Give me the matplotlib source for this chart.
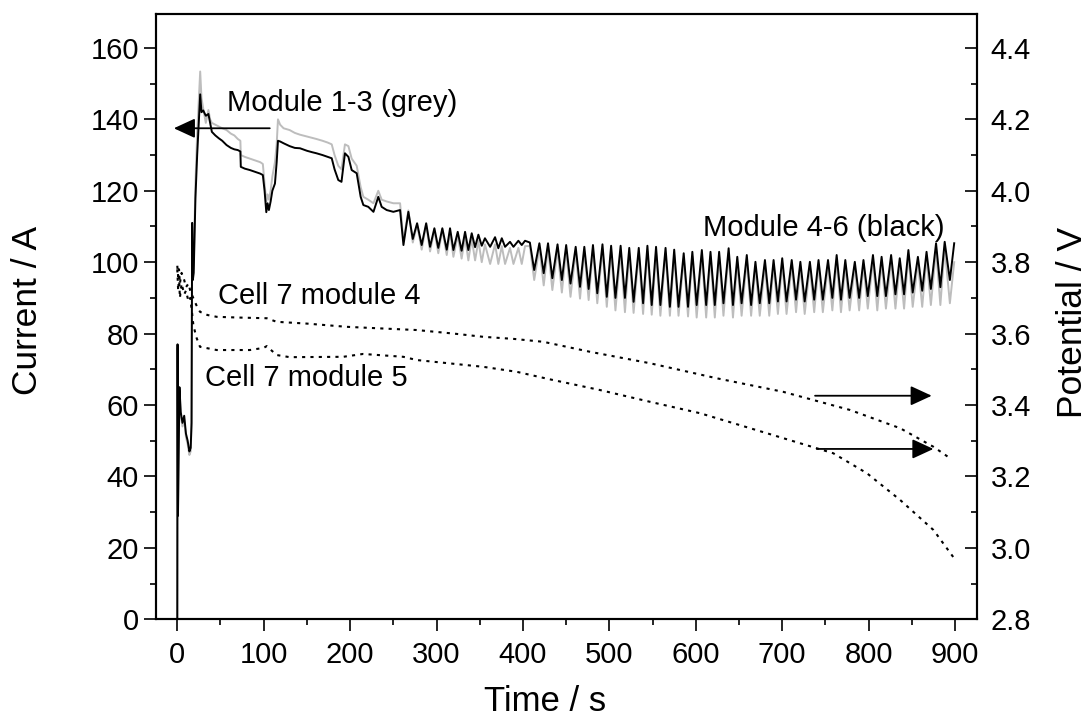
import matplotlib
matplotlib.use('Agg')
import matplotlib.pyplot as plt
import numpy as np

plt.rcParams['font.family'] = ['Liberation Sans', 'DejaVu Sans']

# ---- current, first part (start-up, steps) ----
black_a_t = [0, 0.3, 0.8, 1.5, 2.5, 4, 6, 8, 10, 12, 14, 15.5, 16.5, 17.2, 18, 19, 21, 23, 25,
             26.5, 28, 30, 33, 36, 38, 40, 44, 48, 52, 57, 62, 66, 70, 73, 73.5, 78, 84, 90, 96,
             99, 101, 103, 104.5, 106, 108, 110, 113, 115, 116.5, 119, 123, 130, 136, 142, 150,
             156, 161, 168, 174, 178.7, 182, 186.3, 190, 194, 198, 201.8, 207.6, 212.2, 215.3,
             221, 227, 232.6, 236.5, 242.3, 250, 257.8, 261.7]
black_a_i = [0, 77, 29, 45, 65, 58, 55, 57, 52, 50, 47, 48, 55, 111, 95, 97, 118, 130, 140,
             147, 142, 142.5, 141, 141.5, 139, 136.5, 135.5, 134.7, 134, 132.8, 132, 131.6, 131.4,
             131, 126.7, 126.2, 125.8, 125.3, 124.8, 124.4, 120, 114, 116.5, 114.6, 117, 120,
             122, 128, 134, 133.8, 133.3, 132.5, 132, 131.9, 131.2, 130.8, 130.5, 130, 129.5,
             129.1, 126, 123, 122.5, 130.5, 129.5, 125.8, 124.9, 118.3, 116, 115.5, 114.1,
             118.3, 115.5, 114.6, 114.1, 114.6, 104.8]
grey_a_t = black_a_t
grey_a_i = [0, 76, 30, 46, 64, 57, 54, 56, 51, 49, 46, 47, 54, 110, 96, 99, 122, 136, 146,
            153.4, 146, 143, 139, 142.6, 140, 139, 138.5, 138, 137.5, 137, 136, 135.5, 134.5,
            134, 130, 129.5, 129, 128.5, 128, 127.5, 122, 117, 119, 117.5, 120, 124, 128,
            133, 140, 138.5, 137.5, 137, 136.2, 135.7, 135.2, 134.8, 134.5, 134, 133.5, 133,
            130, 127, 126, 133, 132.5, 129, 127, 121, 118.3, 117.5, 116.5, 120, 117.5, 117,
            116.5, 116.5, 106]

# ---- current, small oscillations ----
black_b_t = [267.4, 272.5, 277.5, 282.8, 288, 292.5, 297.5, 302, 306.7, 311.8, 315.6, 319.5,
             324.5, 329, 333, 336.8, 340.7, 344.6, 348.4, 352.3, 356, 362, 367.7, 371.5, 375.5,
             379.3, 385, 389, 394.7, 398.6, 402.4]
black_b_i = [114.1, 106.5, 110.9, 104.8, 110.9, 104.3, 109.5, 104, 109.5, 103.5, 109.5, 103.4,
             108.5, 103.2, 108.5, 103.4, 108.1, 104.2, 107.7, 104.6, 106.7, 104.3, 107, 103.9,
             106.7, 104.3, 105.7, 104.3, 106, 104.8, 106]
grey_b_t = black_b_t
grey_b_i = [114.5, 105.5, 110.5, 103.5, 110.5, 103, 109, 102.5, 109, 102, 108.5, 101.5, 107.5,
            101, 107, 100.5, 106.5, 100.5, 106, 100, 105, 99.5, 105, 99.5, 104.5, 99.5, 104,
            99.5, 104, 99.5, 104.5]

# ---- current, large oscillations: peaks and troughs ----
peak_t = [408, 419, 429, 440, 450, 461, 471, 481, 492, 502, 513, 523, 534, 544, 554, 565, 575,
          586, 596, 607, 617, 627, 638, 648, 659, 669, 680, 690, 700, 711, 721, 732, 742, 753,
          763, 773, 784, 794, 805, 815, 826, 836, 846, 857, 867, 878, 888, 899]
trough_t = [413, 424, 434, 445, 455, 466, 476, 486, 497, 507, 518, 528, 539, 549, 559, 570,
            580, 591, 601, 612, 622, 632, 643, 653, 664, 674, 685, 695, 705, 716, 726, 737,
            747, 758, 768, 778, 789, 799, 810, 820, 831, 841, 851, 862, 872, 883, 894]
black_peak = [105.5, 105.3, 105.3, 105.0, 104.8, 104.3, 104.3, 104.8, 105.0, 104.6, 104.6,
              104.0, 104.0, 104.6, 104.3, 104.0, 103.5, 102.5, 102.9, 103.4, 102.9, 102.9,
              103.9, 101.5, 102.0, 100.1, 100.6, 100.6, 101.1, 100.6, 100.1, 100.1, 100.6,
              100.6, 102.0, 100.6, 100.1, 100.6, 102.0, 101.5, 102.0, 101.1, 103.4, 101.5,
              102.9, 105.3, 105.7, 105.3]
black_trough = [97.8, 96.9, 95.5, 95, 94, 93.1, 92.5, 91.3, 90.3, 90, 90, 88.9, 88.5, 88, 88,
                87.5, 87.5, 87.5, 88, 88, 88, 88.5, 88, 88.5, 88, 88.5, 88.5, 89, 89, 89.5, 89,
                89.5, 89.5, 90, 89.5, 90, 90, 90.5, 90.5, 90.5, 91, 91, 91.5, 92, 92.5, 93, 95]
grey_peak = [104.5, 104, 104, 103.5, 103.5, 103, 103, 103.5, 103.5, 103, 103, 102.5, 102.5,
             103, 102.5, 102.5, 102, 101, 101.5, 102, 101.5, 101.5, 102.5, 100, 100.5, 98.8,
             99.2, 99.2, 99.6, 99.2, 98.8, 98.8, 99.2, 99.2, 100.5, 99.2, 98.8, 99.2, 100.5,
             100, 100.5, 99.6, 102, 100, 101.5, 103.5, 104, 100]
grey_trough = [95, 93.5, 92.2, 91.5, 90.3, 89.8, 89.4, 88.5, 87.5, 86.5, 86, 85.8, 85.5, 85.3,
               85, 85, 85, 84.8, 84.5, 84.5, 84.5, 85, 84.5, 85, 85, 85, 85, 85.5, 85.5, 86,
               85.5, 86, 86, 86.5, 86, 86.5, 86.5, 87, 86.5, 87, 87, 87, 87.5, 87.5, 88, 88,
               88.5]

# ---- cell potentials ----
cell4_t = [0, 1, 2, 3, 5, 8, 10, 13, 15, 18.6, 22, 26.3, 35, 45.6, 70, 103.5, 115, 150, 196,
           240, 277, 320, 354, 390, 423.6, 477.7, 547, 624, 701, 778.6, 836.5, 875, 896]
cell4_v = [3.79, 3.76, 3.78, 3.74, 3.77, 3.75, 3.73, 3.74, 3.72, 3.699, 3.68, 3.661, 3.652,
           3.647, 3.645, 3.643, 3.633, 3.628, 3.619, 3.614, 3.610, 3.60, 3.591, 3.585, 3.577,
           3.549, 3.517, 3.475, 3.437, 3.386, 3.335, 3.283, 3.248]
cell5_t = [0, 1, 2, 3, 5, 8, 10, 13, 15, 17, 18.6, 22, 26.3, 45.6, 84, 100, 103.5, 108, 115,
           130, 192, 215, 261.6, 277, 354, 392.8, 431, 489, 547, 605, 663, 720.6, 759, 798,
           836.5, 875, 898]
cell5_v = [3.78, 3.72, 3.76, 3.70, 3.74, 3.71, 3.72, 3.69, 3.70, 3.66, 3.624, 3.59, 3.563,
           3.554, 3.554, 3.56, 3.565, 3.555, 3.540, 3.534, 3.535, 3.543, 3.535, 3.526, 3.507,
           3.493, 3.472, 3.442, 3.409, 3.377, 3.335, 3.293, 3.265, 3.209, 3.134, 3.050, 2.974]


def interleave(t_peak, v_peak, t_trough, v_trough):
    t = np.empty(len(t_peak) + len(t_trough))
    v = np.empty_like(t)
    t[0::2], v[0::2] = t_peak, v_peak
    t[1::2], v[1::2] = t_trough, v_trough
    return t, v


bc_t, bc_i = interleave(peak_t, black_peak, trough_t, black_trough)
gc_t, gc_i = interleave(peak_t, grey_peak, trough_t, grey_trough)

black_t = np.concatenate([black_a_t, black_b_t, bc_t])
black_i = np.concatenate([black_a_i, black_b_i, bc_i])
grey_t = np.concatenate([grey_a_t, grey_b_t, gc_t])
grey_i = np.concatenate([grey_a_i, grey_b_i, gc_i])

fig = plt.figure(figsize=(10.91, 7.18), dpi=100)
ax = fig.add_axes([0.1427, 0.1375, 0.7525, 0.8435])
ax2 = ax.twinx()

ax.plot(grey_t, grey_i, color='#bdbdbd', lw=1.4, zorder=2)
ax.plot(black_t, black_i, color='black', lw=1.4, zorder=3)

ax2.plot(cell4_t, cell4_v, color='black', lw=1.5, linestyle=(0, (1.5, 2.5)))
ax2.plot(cell5_t, cell5_v, color='black', lw=1.5, linestyle=(0, (1.5, 2.5)))

ax.set_xlim(-25, 925)
ax.set_ylim(0, 169.6)
ax2.set_ylim(2.8, 4.496)

ax.set_xticks(np.arange(0, 901, 100))
ax.set_xticks(np.arange(50, 901, 100), minor=True)
ax.set_yticks(np.arange(0, 161, 20))
ax.set_yticks(np.arange(10, 161, 20), minor=True)
ax2.set_yticks(np.arange(2.8, 4.41, 0.2))
ax2.set_yticks(np.arange(2.9, 4.41, 0.2), minor=True)
ax2.set_yticklabels([f'{v:.1f}' for v in np.arange(2.8, 4.41, 0.2)])

ax.tick_params(which='both', direction='out', width=1.2, labelsize=21, top=False, right=False)
ax.tick_params(which='major', length=8.5)
ax.tick_params(which='minor', length=4.5)
ax.tick_params(axis='x', which='major', pad=7)
ax2.tick_params(which='both', direction='in', width=1.2, labelsize=21, left=False)
ax2.tick_params(which='major', length=9, pad=10)
ax2.tick_params(which='minor', length=4.5)

for a in (ax, ax2):
    for s in a.spines.values():
        s.set_linewidth(1.5)

ax.set_xlabel('Time / s', fontsize=25)
ax.set_ylabel('Current / A', fontsize=25.5)
ax2.set_ylabel('Potential / V', fontsize=25.5)
ax.xaxis.set_label_coords(0.474, -0.108)
ax.yaxis.set_label_coords(-0.136, 0.51)
ax2.yaxis.set_label_coords(1.097, 0.49)

ax.text(58, 144.6, 'Module 1-3 (grey)', fontsize=21, va='center')
ax.text(608, 109.6, 'Module 4-6 (black)', fontsize=21, va='center')
ax.text(47, 90.5, 'Cell 7 module 4', fontsize=21, va='center')
ax.text(32, 67.6, 'Cell 7 module 5', fontsize=21, va='center')

arrow = dict(arrowstyle='-|>,head_length=0.65,head_width=0.3', mutation_scale=20,
             color='black', lw=1.3, shrinkA=0, shrinkB=0)
ax.annotate('', xy=(-4, 137.5), xytext=(107, 137.5), arrowprops=arrow)
ax2.annotate('', xy=(873, 3.426), xytext=(738, 3.426), arrowprops=arrow)
ax2.annotate('', xy=(875, 3.277), xytext=(740, 3.277), arrowprops=arrow)

fig.savefig('out.png', dpi=100)
